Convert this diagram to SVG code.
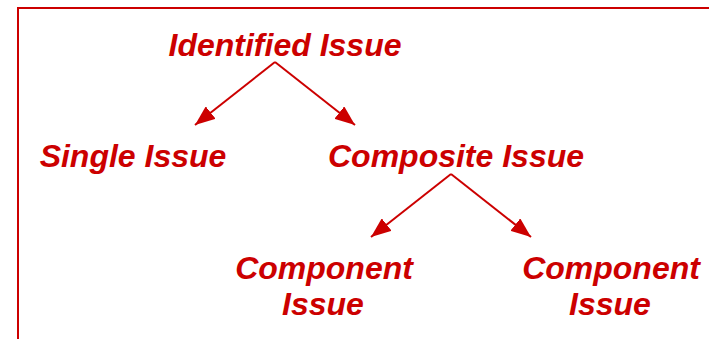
<svg xmlns="http://www.w3.org/2000/svg" width="709" height="339" viewBox="0 0 709 339">
<style>
.t{font-family:"Liberation Sans",Arial,sans-serif;font-weight:bold;font-style:italic;font-size:32px;fill:#CC0000;text-anchor:middle}
.c{stroke:#CC0000;stroke-width:2;fill:none}
</style>
<defs>
<marker id="ah" viewBox="0 0 20 16" refX="20" refY="8" markerWidth="20" markerHeight="16" markerUnits="userSpaceOnUse" orient="auto">
<path d="M0,0 L20,8 L0,16 Z" fill="#CC0000"/>
</marker>
</defs>
<rect width="709" height="339" fill="#fff"/>
<path d="M18,339 V8 H709" class="c"/>
<g id="identified"><text class="t" x="285" y="56">Identified Issue</text></g>
<g id="single"><text class="t" x="133" y="167">Single Issue</text></g>
<g id="composite"><text class="t" x="456" y="167">Composite Issue</text></g>
<g id="component1"><text class="t" x="324" y="279">Component</text><text class="t" x="323" y="315">Issue</text></g>
<g id="component2"><text class="t" x="611" y="279">Component</text><text class="t" x="610" y="315">Issue</text></g>
<g id="connectors">
<line class="c" x1="275" y1="62" x2="195" y2="125" marker-end="url(#ah)"/>
<line class="c" x1="275" y1="62" x2="355" y2="125" marker-end="url(#ah)"/>
<line class="c" x1="451" y1="174" x2="371" y2="237" marker-end="url(#ah)"/>
<line class="c" x1="451" y1="174" x2="531" y2="237" marker-end="url(#ah)"/>
</g>
</svg>
